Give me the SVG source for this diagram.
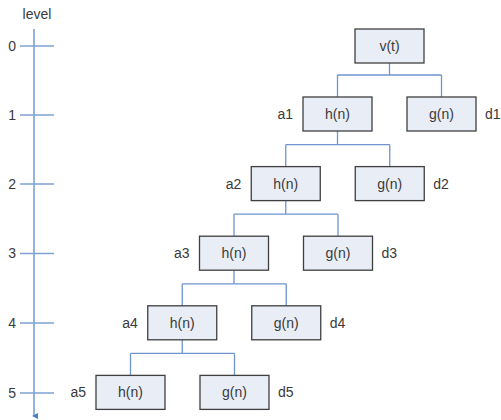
<svg xmlns="http://www.w3.org/2000/svg" width="501" height="420" viewBox="0 0 501 420">
<defs>
<style>
.box{fill:#e8edf6;stroke:#3f3f3f;stroke-width:1.3}
.t{font-family:"Liberation Sans",Arial,sans-serif;font-size:14px;fill:#3a3a3a;}
.c{text-anchor:middle}
.e{text-anchor:end}
.ln{fill:none;stroke:#6f95cf;stroke-width:1.3}
</style>
<marker id="arr" markerWidth="8" markerHeight="8" refX="4" refY="5" orient="auto" markerUnits="userSpaceOnUse" viewBox="0 0 8 8">
<path d="M1,1 L7,1 L4,7 Z" fill="#4a7cc7"/>
</marker>
</defs>
<rect width="501" height="420" fill="#fff"/>
<g id="axis">
<text class="t c" x="37" y="19">level</text>
<line x1="34" y1="29" x2="34" y2="416" stroke="#5b8bd0" stroke-width="1.3" marker-end="url(#arr)"/>
<g stroke="#7fa1d6" stroke-width="1.3">
<line x1="20" y1="46" x2="54" y2="46"/>
<line x1="20" y1="115" x2="54" y2="115"/>
<line x1="20" y1="184" x2="54" y2="184"/>
<line x1="20" y1="253.5" x2="54" y2="253.5"/>
<line x1="20" y1="323" x2="54" y2="323"/>
<line x1="20" y1="393" x2="54" y2="393"/>
</g>
<text class="t e" x="16" y="51">0</text>
<text class="t e" x="16" y="120">1</text>
<text class="t e" x="16" y="189">2</text>
<text class="t e" x="16" y="258">3</text>
<text class="t e" x="16" y="328">4</text>
<text class="t e" x="16" y="398">5</text>
</g>
<g id="connectors" class="ln">
<path d="M389.5,63 V75 M337.5,75 H441.5 M337.5,75 V97 M441.5,75 V97"/>
<path d="M337.5,131 V144.6 M285.75,144.6 H389.75 M285.75,144.6 V166.6 M389.75,144.6 V166.6"/>
<path d="M285.75,200.6 V214.2 M234,214.2 H338 M234,214.2 V236.2 M338,214.2 V236.2"/>
<path d="M234,270.2 V283.8 M182.25,283.8 H286.25 M182.25,283.8 V305.8 M286.25,283.8 V305.8"/>
<path d="M182.25,339.8 V353.4 M130.5,353.4 H234.5 M130.5,353.4 V375.4 M234.5,353.4 V375.4"/>
</g>
<g id="v0"><rect class="box" x="355" y="29" width="69" height="34"/><text class="t c" x="389.5" y="51">v(t)</text></g>
<g id="h1"><rect class="box" x="303" y="97" width="69" height="34"/><text class="t c" x="337.5" y="119">h(n)</text><text class="t e" x="293" y="119">a1</text></g>
<g id="g1"><rect class="box" x="407" y="97" width="69" height="34"/><text class="t c" x="441.5" y="119">g(n)</text><text class="t" x="485" y="119">d1</text></g>
<g id="h2"><rect class="box" x="251.25" y="166.6" width="69" height="34"/><text class="t c" x="285.75" y="188.6">h(n)</text><text class="t e" x="241.25" y="188.6">a2</text></g>
<g id="g2"><rect class="box" x="355.25" y="166.6" width="69" height="34"/><text class="t c" x="389.75" y="188.6">g(n)</text><text class="t" x="433.25" y="188.6">d2</text></g>
<g id="h3"><rect class="box" x="199.5" y="236.2" width="69" height="34"/><text class="t c" x="234" y="258.2">h(n)</text><text class="t e" x="189.5" y="258.2">a3</text></g>
<g id="g3"><rect class="box" x="303.5" y="236.2" width="69" height="34"/><text class="t c" x="338" y="258.2">g(n)</text><text class="t" x="381.5" y="258.2">d3</text></g>
<g id="h4"><rect class="box" x="147.75" y="305.8" width="69" height="34"/><text class="t c" x="182.25" y="327.8">h(n)</text><text class="t e" x="137.75" y="327.8">a4</text></g>
<g id="g4"><rect class="box" x="251.75" y="305.8" width="69" height="34"/><text class="t c" x="286.25" y="327.8">g(n)</text><text class="t" x="329.75" y="327.8">d4</text></g>
<g id="h5"><rect class="box" x="96" y="375.4" width="69" height="34"/><text class="t c" x="130.5" y="397.4">h(n)</text><text class="t e" x="86" y="397.4">a5</text></g>
<g id="g5"><rect class="box" x="200" y="375.4" width="69" height="34"/><text class="t c" x="234.5" y="397.4">g(n)</text><text class="t" x="278" y="397.4">d5</text></g>
</svg>
